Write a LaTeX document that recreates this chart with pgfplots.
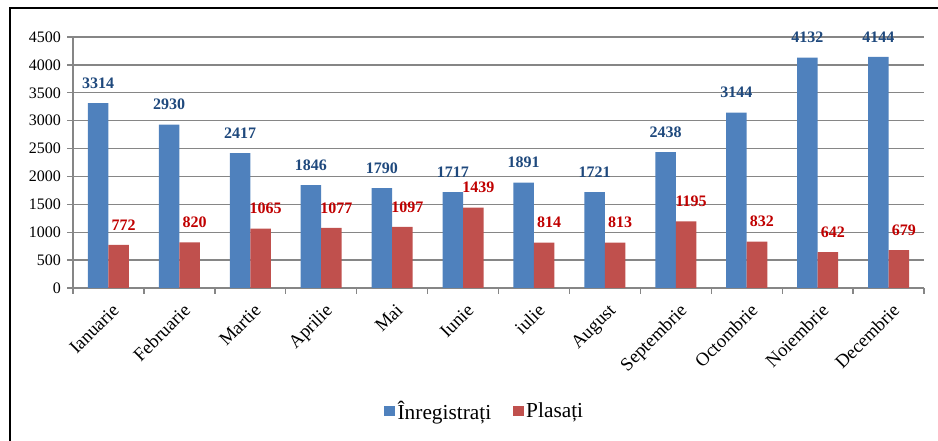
\documentclass[border=0pt]{standalone}
\usepackage{fontspec}
\setmainfont{Liberation Serif}
\usepackage{pgfplots}
\pgfplotsset{compat=1.18}
\definecolor{barblue}{RGB}{79,129,189}
\definecolor{barred}{RGB}{192,80,77}
\definecolor{lblblue}{RGB}{31,73,125}
\definecolor{lblred}{RGB}{192,0,0}
\definecolor{gridgray}{RGB}{134,134,134}
\begin{document}
\begin{tikzpicture}
\useasboundingbox (0,0) rectangle (703.5pt,330.75pt);
\draw[line width=1.5pt] (7.5pt,-20pt) -- (7.5pt,324.75pt) -- (720pt,324.75pt);
\begin{axis}[
  at={(54.75pt,114.75pt)}, anchor=south west,
  width=638.25pt, height=188.25pt, scale only axis,
  ybar, 
  xmin=-0.5, xmax=11.5, ymin=0, ymax=4500,
  ytick={0,500,...,4500},
  xtick={0,...,11},
  xticklabels={Ianuarie,Februarie,Martie,Aprilie,Mai,Iunie,iulie,August,Septembrie,Octombrie,Noiembrie,Decembrie},
  minor xtick={-0.5,0.5,...,11.5},
  axis x line*=bottom, axis y line*=left,
  axis line style={gridgray, line width=1pt, -},
  ymajorgrids, major grid style={gridgray, line width=1pt},
  major x tick style={draw=none},
  minor x tick style={gridgray, line width=1pt},
  ytick style={gridgray, line width=1pt},
  tick align=outside, major tick length=4.5pt, minor tick length=4.5pt,
  /pgf/number format/assume math mode=true,
  /pgf/number format/1000 sep={},
  yticklabel style={font=\fontsize{12}{14}\selectfont, xshift=-1pt},
  xticklabel style={font=\fontsize{14}{16}\selectfont, rotate=45, anchor=north east, inner sep=1pt, yshift=-5pt, xshift=-2pt},
  legend style={at={(0.484,-0.49)}, anchor=center, draw=none, fill=none,
    legend columns=2, font=\fontsize{16}{18}\selectfont,
    /tikz/every even column/.append style={column sep=14pt}},
  legend cell align=left,
  clip=false,
]
\addplot[fill=barblue, draw=none, bar width=15.4pt, bar shift=-7.7pt,
  legend image code/.code={\fill[barblue] (0pt,-4.1pt) rectangle (8.25pt,4.1pt);},
  nodes near coords,
  every node near coord/.append style={font=\bfseries\fontsize{12}{14}\selectfont, text=lblblue, anchor=center, yshift=15pt}]
  coordinates {(0,3314) (1,2930) (2,2417) (3,1846) (4,1790) (5,1717) (6,1891) (7,1721) (8,2438) (9,3144) (10,4132) (11,4144)};
\addplot[fill=barred, draw=none, bar width=15.4pt, bar shift=7.7pt,
  legend image code/.code={\fill[barred] (0pt,-4.1pt) rectangle (8.25pt,4.1pt);},
  nodes near coords,
  every node near coord/.append style={font=\bfseries\fontsize{12}{14}\selectfont, text=lblred, anchor=center, yshift=15pt, xshift=3.75pt}]
  coordinates {(0,772) (1,820) (2,1065) (3,1077) (4,1097) (5,1439) (6,814) (7,813) (8,1195) (9,832) (10,642) (11,679)};
\legend{Înregistrați, Plasați}
\end{axis}
\end{tikzpicture}
\end{document}
